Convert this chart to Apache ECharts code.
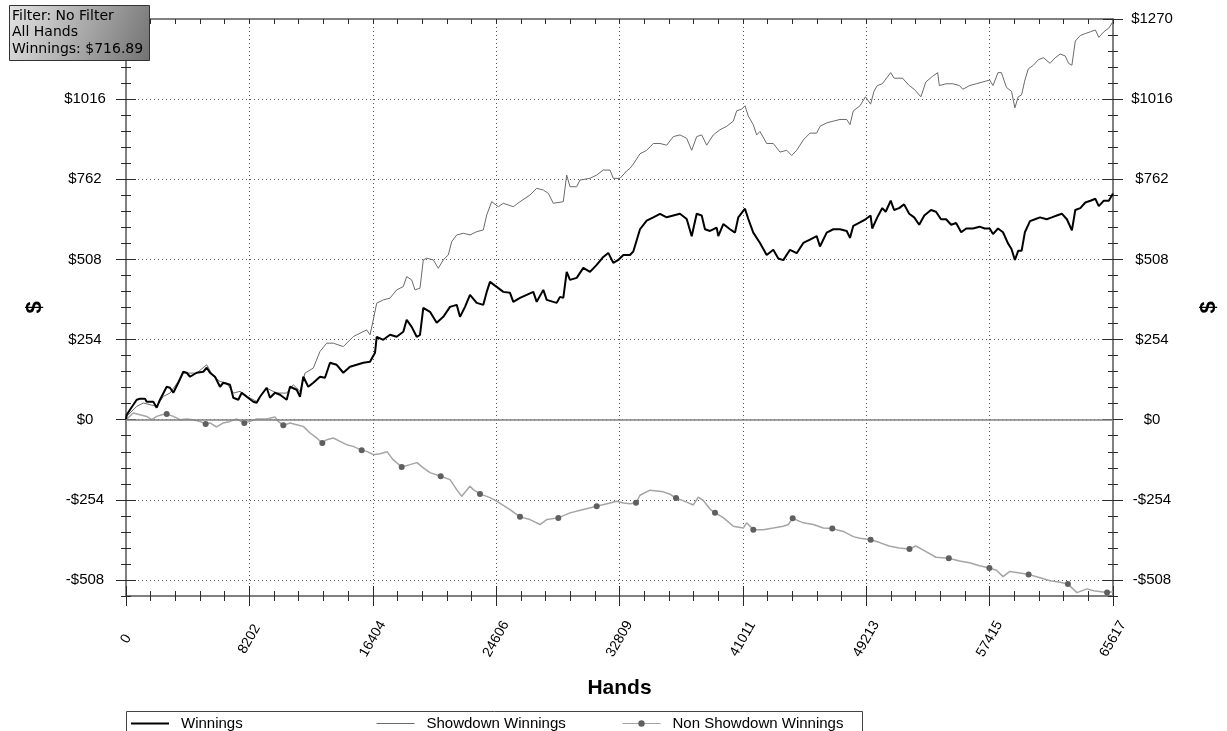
<!DOCTYPE html>
<html><head><meta charset="utf-8">
<script src="https://cdn.jsdelivr.net/npm/echarts@6/dist/echarts.min.js"></script>
<style>html,body{margin:0;padding:0;background:#fff}#c{width:1227px;height:731px}</style>
</head><body><div id="c"></div>
<script>
// ---- data (hands, $) ----
const winnings = [[0,0],[47,15.8],[266,31.7],[711,63.3],[931,66.5],[1263,66.5],[1376,57],[1815,57],[2041,38],[2260,63.3],[2706,104.4],[2925,101.3],[3145,85.5],[3477,117.1],[3809,151.9],[4035,148.8],[4255,136.1],[4700,148.8],[5139,151.9],[5365,164.6],[5584,148.8],[5917,136.1],[6249,104.4],[6469,117.1],[6914,110.8],[7133,69.6],[7466,63.3],[7692,85.5],[8024,72.8],[8463,57],[8689,53.8],[8908,72.8],[9354,101.3],[9573,69.6],[9906,85.5],[10238,79.1],[10684,63.3],[10903,104.4],[11348,95],[11568,72.8],[11787,136.1],[12120,104.4],[12452,117.1],[12897,136.1],[13230,132.9],[13562,180.4],[14007,174.1],[14446,148.8],[14892,167.7],[15337,174.1],[15776,180.4],[16221,183.6],[16554,212.1],[16667,262.7],[17106,253.2],[17551,269],[17996,262.7],[18435,278.5],[18661,316.5],[18993,294.3],[19326,262.7],[19545,269],[19764,354.5],[20210,341.8],[20655,307],[21094,326],[21540,357.6],[21985,364],[22205,326],[22537,357.6],[22869,395.6],[23315,370.3],[23754,364],[23980,405.1],[24199,436.8],[24645,420.9],[25084,405.1],[25529,402],[25748,373.5],[26194,386.1],[26639,395.6],[27078,405.1],[27304,373.5],[27743,411.5],[27969,379.8],[28408,373.5],[28634,370.3],[28853,389.3],[29072,386.1],[29298,468.4],[29518,443.1],[29963,449.4],[30402,481.1],[30847,468.4],[31293,490.6],[31732,515.9],[32064,528.6],[32397,496.9],[32729,506.4],[33061,522.2],[33506,522.2],[33726,533],[34171,603.6],[34616,630.8],[35055,641.5],[35501,652.6],[35946,641.5],[36385,647.2],[36830,652.6],[37276,636.2],[37608,581.7],[37941,652.6],[38273,647.2],[38492,603.6],[38825,598.2],[39270,608.9],[39376,581.7],[39709,620],[40154,603.6],[40487,592.8],[40706,641.5],[41151,668.8],[41371,636.2],[41703,592.8],[42149,560.2],[42594,522.2],[43033,538.4],[43366,511.1],[43698,505.8],[44143,538.4],[44589,527.6],[45028,560.2],[45473,571],[45918,581.7],[46138,549.1],[46583,592.8],[47022,603.6],[47467,603.6],[47913,598.2],[48132,576.3],[48352,614.6],[48797,625.4],[49163,635.2],[49502,647.2],[49608,606.1],[49947,641.2],[50280,670.7],[50506,659],[50838,694.1],[51064,664.7],[51396,670.7],[51729,682.4],[52068,652.9],[52400,641.2],[52733,617.8],[53072,647.2],[53517,664.7],[53850,659],[54182,635.2],[54521,635.2],[54854,617.8],[55186,623.5],[55525,594.1],[55857,606.1],[56303,606.1],[56748,611.8],[57087,606.1],[57420,606.1],[57639,588.4],[57971,606.1],[58304,594.1],[58636,558.9],[58869,541.2],[59095,506.1],[59314,535.2],[59540,535.2],[59760,594.1],[60099,629.5],[60431,635.2],[60764,641.2],[61209,635.2],[61548,641.2],[61880,647.2],[62213,652.9],[62552,635.2],[62885,600.1],[63111,664.7],[63443,670.7],[63776,688.4],[64115,694.1],[64447,700.1],[64673,676.7],[65006,694.1],[65338,694.1],[65617,716.89]];

const showdown = [[0,0],[47,10.4],[266,21.2],[711,42.1],[1150,52.9],[1596,47.5],[2041,42.1],[2480,73.8],[2925,84.4],[3477,121.1],[3809,147.7],[4700,147.7],[5365,174.1],[5804,137.1],[6249,121.3],[6695,116],[7133,84.4],[7579,89.8],[8244,68.7],[8689,58],[9354,100.2],[10019,84.4],[10684,84.4],[11122,110.8],[11568,89.8],[11900,147.7],[12452,163.6],[12897,216.2],[13343,242.5],[13782,242.5],[14446,231.7],[15111,263.5],[16002,284.8],[16221,268.9],[16441,316.5],[16667,369.3],[16886,374.4],[17106,379.8],[17551,385.2],[17996,411.5],[18435,421.9],[18661,453.5],[18993,443.1],[19212,411.5],[19545,416.9],[19764,506.4],[19990,511.8],[20429,506.4],[20762,480.1],[21094,506.4],[21427,522.2],[21653,564.3],[21985,585.5],[22424,590.9],[22869,585.5],[23315,595.9],[23754,601.4],[23980,648.8],[24312,690.9],[24751,675.1],[25084,685.9],[25748,675.1],[26194,690.9],[26858,712.1],[27304,733.3],[27743,728],[28075,717.5],[28408,685.9],[29072,690.9],[29298,775.4],[29518,738.4],[29963,738.4],[30182,759.6],[30847,765],[31293,775.4],[31732,791.3],[32177,791.3],[32397,765],[32842,765],[33283,788.4],[33506,796.7],[33726,810.2],[34171,842.8],[34616,853.9],[35055,875.4],[35501,875.4],[35946,870],[36385,897.2],[36830,902.6],[37276,891.8],[37608,853.9],[37941,897.2],[38273,902.6],[38605,870],[39044,902.6],[39489,919.1],[39935,929.8],[40373,946.3],[40600,978.9],[40932,984.3],[41151,995],[41371,962.4],[41703,935.1],[41929,902.6],[42149,913.6],[42594,875.4],[43033,875.4],[43479,848.2],[43924,853.9],[44256,837.4],[44589,853.9],[45028,886.5],[45473,908.3],[45918,908.3],[46138,929.8],[46583,940.8],[47022,946.3],[47467,951.6],[47913,951.6],[48132,935.1],[48352,978.9],[48797,995],[49163,1023.5],[49502,1000.1],[49728,1041.2],[49947,1059],[50280,1064.7],[50838,1100.1],[51064,1082.4],[51623,1082.4],[52068,1059],[52400,1047.3],[52846,1023.5],[53178,1070.7],[53624,1088.4],[53963,1100.1],[54069,1059],[54521,1064.7],[54967,1064.7],[55412,1059],[55631,1047.3],[56083,1059],[56529,1064.7],[56974,1070.7],[57420,1076.4],[57639,1059],[57971,1100.1],[58197,1100.1],[58536,1053],[58869,1041.2],[59095,988.4],[59314,1023.5],[59540,1029.5],[59760,1076.4],[59986,1111.8],[60325,1123.5],[60657,1141.2],[60990,1147.2],[61435,1129.5],[61774,1147.2],[62106,1158.9],[62439,1152.9],[62665,1129.5],[62885,1123.5],[63111,1200.1],[63443,1217.8],[63776,1223.8],[64115,1229.5],[64447,1235.2],[64673,1211.8],[65006,1229.5],[65338,1241.2],[65617,1261.9]];

const nonShowdown = [[0,0],[47,5.4],[485,21.2],[931,15.8],[1376,10.4],[1709,0],[2041,10.4],[2373,15.8],[2706,18],[3145,10.4],[3590,0],[4035,2.2],[4474,0],[4920,-5.4],[5298,-13.6],[5584,-10.4],[6030,-23.1],[6469,-10.4],[6914,-5.4],[7359,2.2],[7864,-10.4],[8244,-5.4],[8689,2.2],[9354,2.2],[9906,8.5],[10125,-5.4],[10457,-18],[10903,-10.4],[11348,-15.8],[11787,-21.2],[12233,-42.1],[12678,-57.9],[13050,-73.8],[13343,-63.3],[13782,-57.9],[14227,-68.6],[14672,-79.1],[15111,-84.5],[15670,-97.2],[16002,-100.4],[16441,-110.8],[16886,-107.7],[17352,-101.3],[17751,-126.6],[18329,-149.7],[18881,-142.4],[19346,-136.1],[19745,-151.9],[20210,-167.7],[20921,-179.5],[21540,-189.9],[21985,-221.6],[22318,-242.8],[22869,-211.1],[23089,-221.6],[23534,-235.2],[24199,-246.9],[24665,-258.6],[25529,-284.9],[26194,-308],[26858,-316.5],[27523,-332.3],[27969,-316.5],[28740,-311.2],[29518,-295.4],[30402,-284.9],[31293,-274.4],[32177,-263.9],[32622,-258.6],[33061,-263.9],[33506,-266.6],[33905,-263.5],[34171,-239.4],[34836,-223.3],[35720,-228.7],[36166,-236.3],[36565,-248.3],[37276,-261.3],[37714,-270.2],[38047,-245.2],[38379,-256],[38825,-283.2],[39157,-295.2],[39709,-310.4],[40373,-337.6],[41038,-343.3],[41264,-326.9],[41703,-348.7],[42368,-348.7],[43033,-343.3],[43698,-337.6],[44030,-332.3],[44322,-312.6],[45028,-326.9],[45693,-332.3],[46358,-343.3],[46956,-345.2],[47687,-354.1],[48352,-370.6],[48797,-376],[49502,-380.4],[50060,-388.7],[50725,-400.4],[51396,-406.4],[52088,-409.9],[52513,-400.4],[53185,-418.1],[53850,-435.9],[54701,-439.3],[55412,-447.6],[56083,-453.6],[56748,-463.1],[57400,-470.1],[57865,-477],[58311,-497.3],[58756,-480.8],[59427,-485.6],[60006,-490.3],[60764,-500.8],[61435,-510.3],[62106,-515],[62618,-521.1],[63223,-548],[63888,-536.3],[64333,-542.3],[65224,-548],[65617,-545]];

// hands at which the non-showdown line carries a marker dot
const nonShowdownMarkers = [2706,5298,7864,10457,13050,15670,18329,20921,23534,26194,28740,31293,33905,36565,39157,41703,44322,46956,49502,52088,54701,57400,60006,62618,65224];

const xTicks = [0,8202,16404,24606,32809,41011,49213,57415,65617];
const yTicks = [-508,-254,0,254,508,762,1016,1270];
const seriesNames = ['Winnings','Showdown Winnings','Non Showdown Winnings'];
const infoLines = ['Filter: No Filter','All Hands','Winnings: $716.89'];

// ---- chart ----
const X_MIN = 0, X_MAX = 65617, X_STEP = 65617 / 8;
const Y_MIN = -558.8, Y_MAX = 1270, Y_MINOR = 50.8;
const AX = '#808080', TK = '#2a2a2a', GRID = '#555';
const FONT = '"Liberation Sans", Arial, sans-serif';
const money = v => (v < 0 ? '-$' + Math.round(-v) : '$' + Math.round(v));

function xBase(extra) {
  return Object.assign({
    type: 'value', min: X_MIN, max: X_MAX, interval: X_STEP,
    axisLine: { show: false, onZero: false },
    axisTick: { show: false }, axisLabel: { show: false },
    splitLine: { show: false }, minorTick: { show: false }
  }, extra);
}
function yBase(extra) {
  return Object.assign({
    type: 'value', min: Y_MIN, max: Y_MAX, interval: Y_MINOR,
    axisLine: { show: false, onZero: false },
    axisTick: { show: false }, axisLabel: { show: false },
    splitLine: { show: false }, minorTick: { show: false }
  }, extra);
}
const dotted = { show: true, lineStyle: { color: GRID, width: 1, type: [1, 3] } };
const solidAxis = { show: true, onZero: false, lineStyle: { color: AX, width: 2 } };

const markerSet = new Set(nonShowdownMarkers);
const nsData = nonShowdown.map(p => markerSet.has(p[0]) ? { value: p } : { value: p, symbol: 'none' });

const LEG_LEFT = 126, LEG_STEP = 246, LEG_TOP = 711;
const legendItems = [
  { name: seriesNames[0], itemStyle: { opacity: 0 }, lineStyle: { width: 2 } },
  { name: seriesNames[1], itemStyle: { opacity: 0 }, lineStyle: { width: 1 } },
  { name: seriesNames[2], lineStyle: { width: 1 } }
];
const legends = legendItems.map((item, i) => ({
  data: [item],
  left: LEG_LEFT + i * LEG_STEP, top: LEG_TOP, orient: 'horizontal',
  padding: [5, 4, 4, 4], itemWidth: 38, itemHeight: 8, selectedMode: false,
  textStyle: { fontSize: 15, color: '#000', padding: [0, 0, 0, 7], fontFamily: FONT }
}));

const chart = echarts.init(document.getElementById('c'), null, { renderer: 'canvas' });
chart.setOption({
  animation: false,
  textStyle: { fontFamily: FONT },
  grid: { left: 126, right: 114, top: 19, bottom: 135, containLabel: false, outerBoundsMode: 'none' },
  xAxis: [
    xBase({
      position: 'bottom', axisLine: solidAxis,
      axisLabel: { show: true, customValues: xTicks, formatter: v => String(Math.round(v)),
        rotate: 60, align: 'center', verticalAlign: 'middle', margin: 43,
        fontSize: 14, color: '#000', fontFamily: FONT },
      splitLine: dotted,
      name: 'Hands', nameLocation: 'middle', nameGap: 82, nameMoveOverlap: false,
      nameTextStyle: { fontSize: 21, fontWeight: 'bold', color: '#000', fontFamily: FONT }
    }),
    xBase({ position: 'bottom', offset: -10, axisTick: { show: true, length: 20, lineStyle: { color: TK } } }),
    xBase({ position: 'bottom', offset: -5, minorTick: { show: true, splitNumber: 5, length: 10, lineStyle: { color: TK } } }),
    xBase({ position: 'top', axisLine: solidAxis,
      axisTick: { show: true, inside: true, length: 5, lineStyle: { color: TK } },
      minorTick: { show: true, splitNumber: 5, length: 5, lineStyle: { color: TK } } })
  ],
  yAxis: [
    yBase({
      position: 'left', axisLine: solidAxis,
      axisTick: { show: false, customValues: yTicks },
      axisLabel: { show: true, customValues: yTicks, formatter: money, margin: 41, align: 'center',
        fontSize: 15, color: '#000', fontFamily: FONT },
      splitLine: dotted,
      name: '$', nameLocation: 'middle', nameGap: 80, nameRotate: 90, nameMoveOverlap: false,
      nameTextStyle: { fontSize: 22, fontWeight: 'bold', color: '#000', fontFamily: FONT }
    }),
    yBase({ position: 'left', offset: -5, axisTick: { show: true, length: 10, lineStyle: { color: TK } } }),
    yBase({ position: 'left', offset: -10, axisTick: { show: true, length: 20, customValues: yTicks, lineStyle: { color: TK } } }),
    yBase({
      position: 'right', axisLine: solidAxis,
      axisTick: { show: false, customValues: yTicks },
      axisLabel: { show: true, customValues: yTicks, formatter: money, margin: 39, align: 'center',
        fontSize: 15, color: '#000', fontFamily: FONT },
      name: '$', nameLocation: 'middle', nameGap: 85, nameRotate: 90, nameMoveOverlap: false,
      nameTextStyle: { fontSize: 22, fontWeight: 'bold', color: '#000', fontFamily: FONT }
    }),
    yBase({ position: 'right', offset: -5, axisTick: { show: true, length: 10, lineStyle: { color: TK } } }),
    yBase({ position: 'right', offset: -10, axisTick: { show: true, length: 20, customValues: yTicks, lineStyle: { color: TK } } })
  ],
  legend: legends,
  graphic: { elements: [
    { type: 'rect', shape: { x: 126.5, y: 711.5, width: 736, height: 40 }, z: 50,
      style: { fill: 'none', stroke: '#444', lineWidth: 1 } },
    { type: 'rect', shape: { x: 9.5, y: 5.5, width: 140, height: 55 }, z: 100,
      style: { fill: { type: 'linear', x: 0, y: 0, x2: 1, y2: 1,
        colorStops: [{ offset: 0, color: '#e4e4e4' }, { offset: 1, color: '#727272' }] },
        stroke: '#333', lineWidth: 1 } }
  ].concat(infoLines.map((t, i) => ({
    type: 'text', x: 12, y: 16 + i * 16.8, z: 101,
    style: { text: t, font: '14px "DejaVu Sans"', fill: '#000', verticalAlign: 'middle' }
  }))) },
  series: [
    { type: 'line', name: seriesNames[1], data: showdown, xAxisIndex: 0, yAxisIndex: 0,
      symbol: 'none', lineStyle: { color: '#6a6a6a', width: 1 }, itemStyle: { color: '#6a6a6a' }, z: 2,
      markLine: { silent: true, symbol: ['none', 'none'], label: { show: false },
        lineStyle: { color: '#808080', width: 1.5, type: 'solid' }, data: [{ yAxis: 0 }] } },
    { type: 'line', name: seriesNames[2], data: nsData, xAxisIndex: 0, yAxisIndex: 0,
      symbol: 'circle', symbolSize: 6, showSymbol: true, showAllSymbol: true,
      lineStyle: { color: '#a5a5a5', width: 1.5 }, itemStyle: { color: '#5f5f5f' }, z: 3 },
    { type: 'line', name: seriesNames[0], data: winnings, xAxisIndex: 0, yAxisIndex: 0,
      symbol: 'none', lineStyle: { color: '#000', width: 2 }, itemStyle: { color: '#000' }, z: 4 }
  ]
});
</script></body></html>
